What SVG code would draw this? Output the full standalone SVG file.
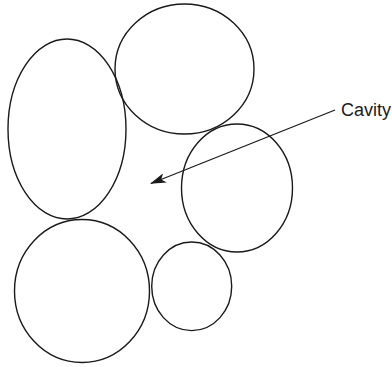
<svg xmlns="http://www.w3.org/2000/svg" width="392" height="367" viewBox="0 0 392 367">
  <style>
    .grain { fill: none; stroke: #1a1a1a; stroke-width: 1.4; }
    .leader { fill: none; stroke: #1a1a1a; stroke-width: 1.3; }
    .label { font-family: "Liberation Sans", Arial, sans-serif; font-size: 18px; fill: #1a1a1a; }
  </style>
  <defs>
    <marker id="arrowhead" viewBox="0 0 16 10" refX="15" refY="5" markerWidth="16" markerHeight="10" markerUnits="userSpaceOnUse" orient="auto">
      <path d="M0,0 L16,5 L0,10 L4,5 Z" fill="#1a1a1a"/>
    </marker>
  </defs>
  <rect width="392" height="367" fill="#ffffff"/>

  <g id="grain-left"><ellipse class="grain" cx="67" cy="129" rx="59" ry="90"/></g>
  <g id="grain-top"><ellipse class="grain" cx="184.5" cy="69" rx="69.5" ry="65"/></g>
  <g id="grain-right"><ellipse class="grain" cx="237" cy="188" rx="55.5" ry="64"/></g>
  <g id="grain-bottom-left"><ellipse class="grain" cx="82" cy="291" rx="67.5" ry="71.5"/></g>
  <g id="grain-small"><ellipse class="grain" cx="191.7" cy="286.3" rx="40" ry="44.3"/></g>

  <g id="connectors">
    <line class="leader" x1="335" y1="110" x2="151" y2="183.5" marker-end="url(#arrowhead)"/>
  </g>

  <g id="label-cavity"><text class="label" x="341" y="116">Cavity</text></g>
</svg>
